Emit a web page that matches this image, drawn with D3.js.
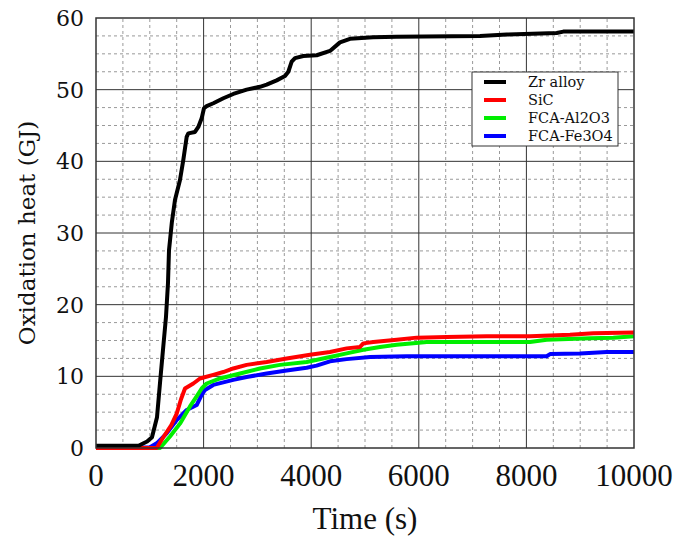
<!DOCTYPE html>
<html lang="en">
<head>
    <meta charset="UTF-8">
    <script src="https://d3js.org/d3.v7.min.js"></script>
</head>
<style>
    body { margin: 0; background: #fff; }
    svg { display: block; }
    .minor { stroke: #999; stroke-width: 1; stroke-dasharray: 3,3; }
    .major { stroke: #333; stroke-width: 1; }
    .frame { fill: none; stroke: #333; stroke-width: 1.5; }
    .ytick { font: 22px 'DejaVu Serif'; fill: #111; }
    .xtick { font: 31px 'Liberation Serif'; fill: #111; }
    .legend text { font: 14.5px 'DejaVu Serif'; fill: #111; }
</style>
<body>
<div class="chart"></div>
<script>
    const width = 694,
        height = 537
    const margin = {left: 96, right: 60, top: 18, bottom: 89}

    // series data (time in s, heat in GJ)
    const seriesNames = ['Zr alloy', 'SiC', 'FCA-Al2O3', 'FCA-Fe3O4']
    const seriesColors = ['#000000', '#ff0000', '#00ee00', '#0000ff']

    const zrTime = [0, 500, 800, 855, 950, 1041, 1134, 1190, 1245, 1301, 1338, 1357, 1410, 1468, 1561, 1623, 1685, 1716, 1840, 1902, 1964, 2007, 2057, 2181, 2367, 2552, 2800, 3048, 3172, 3358, 3513, 3575, 3637, 3699, 3854, 4102, 4349, 4535, 4721, 5149, 5589, 7138, 7634, 8563, 8686, 10000]
    const zrHeat = [0.3, 0.3, 0.35, 0.55, 0.9, 1.5, 4.3, 9.1, 13.7, 18.3, 23.0, 27.6, 31.5, 34.6, 37.4, 40.2, 43.4, 43.9, 44.1, 44.8, 46.0, 47.4, 47.7, 48.1, 48.8, 49.4, 50.0, 50.4, 50.7, 51.3, 51.9, 52.5, 53.9, 54.4, 54.7, 54.8, 55.4, 56.6, 57.1, 57.3, 57.4, 57.5, 57.7, 57.9, 58.1, 58.1]

    const sicTime = [0, 1128, 1250, 1400, 1500, 1580, 1654, 1809, 1933, 2180, 2366, 2552, 2800, 3172, 3544, 3978, 4349, 4659, 4907, 4969, 5155, 5589, 5961, 6519, 7262, 8067, 8810, 9244, 10000]
    const sicHeat = [0, 0, 1.5, 3.2, 4.8, 6.8, 8.3, 9.0, 9.7, 10.2, 10.6, 11.1, 11.6, 12.0, 12.5, 13.0, 13.4, 13.9, 14.1, 14.6, 14.8, 15.1, 15.4, 15.5, 15.6, 15.6, 15.8, 16.0, 16.1]

    const alTime = [0, 1190, 1375, 1561, 1747, 1871, 1964, 2057, 2305, 2677, 3048, 3420, 3916, 4349, 4659, 4969, 5279, 5589, 5899, 6147, 8067, 8377, 9182, 9616, 10000]
    const alHeat = [0, 0, 1.6, 3.4, 5.8, 7.2, 8.3, 9.0, 9.7, 10.4, 11.1, 11.6, 12.0, 12.7, 13.2, 13.7, 14.1, 14.4, 14.6, 14.8, 14.8, 15.1, 15.3, 15.4, 15.6]

    const feTime = [0, 1004, 1128, 1314, 1500, 1686, 1872, 1964, 2026, 2180, 2552, 2800, 3172, 3544, 3916, 4100, 4349, 4659, 5093, 5775, 8377, 8439, 8996, 9492, 10000]
    const feHeat = [0, 0.1, 0.65, 2.05, 3.9, 5.3, 6.0, 7.4, 8.1, 8.8, 9.5, 9.9, 10.4, 10.8, 11.2, 11.5, 12.1, 12.4, 12.7, 12.8, 12.8, 13.1, 13.2, 13.4, 13.4]

    const xTicks = [0, 2000, 4000, 6000, 8000, 10000]
    const yTicks = [0, 10, 20, 30, 40, 50, 60]

    const svg = d3.select('.chart')
        .append('svg')
        .attr('width', width)
        .attr('height', height)

    const x = d3.scaleLinear().domain([0, 10000]).range([margin.left, width - margin.right])
    const y = d3.scaleLinear().domain([0, 60]).range([height - margin.bottom, margin.top])

    const x0 = x(0), x1 = x(10000), y0 = y(0), y1 = y(60)

    // minor grid
    const g = svg.append('g')
    g.selectAll('.mx')
        .data(d3.range(500, 10000, 500).filter(d => d % 2000 !== 0))
        .enter().append('line')
        .attr('class', 'minor')
        .attr('x1', d => x(d)).attr('x2', d => x(d))
        .attr('y1', y0).attr('y2', y1)
    g.selectAll('.my')
        .data(d3.range(2.5, 60, 2.5).filter(d => d % 10 !== 0))
        .enter().append('line')
        .attr('class', 'minor')
        .attr('y1', d => y(d)).attr('y2', d => y(d))
        .attr('x1', x0).attr('x2', x1)

    // major grid
    g.selectAll('.Mx')
        .data(xTicks.slice(1, -1))
        .enter().append('line')
        .attr('class', 'major')
        .attr('x1', d => x(d)).attr('x2', d => x(d))
        .attr('y1', y0).attr('y2', y1)
    g.selectAll('.My')
        .data(yTicks.slice(1, -1))
        .enter().append('line')
        .attr('class', 'major')
        .attr('y1', d => y(d)).attr('y2', d => y(d))
        .attr('x1', x0).attr('x2', x1)

    // curves
    const allSeries = [
        {t: zrTime, v: zrHeat},
        {t: sicTime, v: sicHeat},
        {t: alTime, v: alHeat},
        {t: feTime, v: feHeat}
    ]
    const line = d3.line().x(d => x(d[0])).y(d => y(d[1]))
    const plot = svg.append('g')
    // draw black last so it sits on top at the start
    ;[3, 2, 1, 0].forEach(i => {
        const s = allSeries[i]
        plot.append('path')
            .datum(s.t.map((t, j) => [t, s.v[j]]))
            .attr('d', line)
            .attr('fill', 'none')
            .attr('stroke', seriesColors[i])
            .attr('stroke-width', 4)
            .attr('stroke-linejoin', 'round')
    })

    // frame
    svg.append('rect')
        .attr('class', 'frame')
        .attr('x', x0).attr('y', y1)
        .attr('width', x1 - x0).attr('height', y0 - y1)

    // tick labels
    svg.selectAll('.xtick')
        .data(xTicks)
        .enter().append('text')
        .attr('class', 'xtick')
        .attr('x', d => x(d))
        .attr('y', 486)
        .attr('text-anchor', 'middle')
        .text(d => d)
    svg.selectAll('.ytick')
        .data(yTicks)
        .enter().append('text')
        .attr('class', 'ytick')
        .attr('x', 84)
        .attr('y', d => y(d) + 8)
        .attr('text-anchor', 'end')
        .text(d => d)

    // axis titles
    svg.append('text')
        .attr('x', (x0 + x1) / 2)
        .attr('y', 529)
        .attr('text-anchor', 'middle')
        .style('font', "31px 'Liberation Serif'")
        .style('fill', '#111')
        .text('Time (s)')
    svg.append('text')
        .attr('transform', 'translate(35,' + ((y0 + y1) / 2) + ') rotate(-90)')
        .attr('text-anchor', 'middle')
        .style('font', "23px 'DejaVu Serif'")
        .style('fill', '#111')
        .text('Oxidation heat (GJ)')

    // legend
    const leg = svg.append('g').attr('class', 'legend')
    leg.append('rect')
        .attr('x', 472).attr('y', 72)
        .attr('width', 146).attr('height', 74)
        .attr('fill', '#fff')
        .attr('stroke', '#333')
        .attr('stroke-width', 1)
    seriesNames.forEach((name, i) => {
        const ly = 82 + i * 18
        leg.append('line')
            .attr('x1', 484).attr('x2', 506)
            .attr('y1', ly).attr('y2', ly)
            .attr('stroke', seriesColors[i])
            .attr('stroke-width', 4)
        leg.append('text')
            .attr('x', 528).attr('y', ly + 5)
            .text(name)
    })
</script>
</body>
</html>
